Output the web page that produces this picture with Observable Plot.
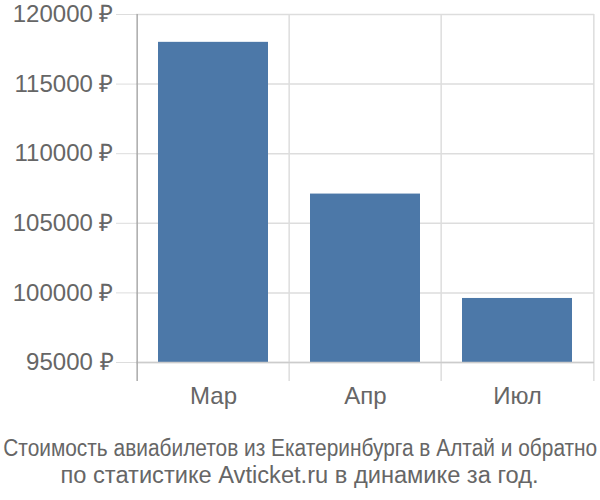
<!DOCTYPE html>
<html>
<head>
<meta charset="utf-8">
<script src="https://cdn.jsdelivr.net/npm/d3@7"></script>
<script src="https://cdn.jsdelivr.net/npm/@observablehq/plot@0.6"></script>
<style>
  body { margin: 0; background: #fff; overflow: hidden; }
  #chart svg { display: block; }
  #caption {
    width: 600px;
    display: flex;
    flex-direction: column;
    align-items: center;
    font-family: "Liberation Sans", Arial, sans-serif;
    font-size: 23px;
    line-height: 27px;
    color: #666;
    margin-top: 15px;
    white-space: nowrap;
  }
  #caption span { display: block; flex: none; transform-origin: center; }
</style>
</head>
<body>
<div id="chart"></div>
<div id="caption"><span id="l1">Стоимость авиабилетов из Екатеринбурга в Алтай и обратно</span><span id="l2">по статистике Avticket.ru в динамике за год.</span></div>
<script>
const months = ["Мар", "Апр", "Июл"];
const prices = [118000, 107100, 99600];
const yTicks = [95000, 100000, 105000, 110000, 115000, 120000];

const data = months.map((m, i) => ({month: m, price: prices[i]}));
const bw = (600 - 136 - 6) / months.length;

const chart = Plot.plot({
  width: 600,
  height: 420,
  marginLeft: 136,
  marginRight: 6,
  marginTop: 14,
  marginBottom: 39,
  style: {fontFamily: "'Liberation Sans', Arial, sans-serif", fontSize: "24px", color: "#666", background: "#fff"},
  x: {domain: months, padding: 0, label: null},
  y: {domain: [95000, 120000], range: [362, 14], label: null},
  marks: [
    Plot.ruleY(yTicks, {stroke: "#ddd", strokeWidth: 1.5}),
    Plot.axisY({ticks: yTicks, tickSize: 20, tickPadding: 3, stroke: "#ddd", fill: "#666", tickFormat: d => d + " ₽", fontSize: 24}),
    Plot.ruleX(months.slice(1), {stroke: "#ddd", strokeWidth: 1.5, dx: -bw / 2}),
    Plot.ruleX(months.slice(-1), {stroke: "#ddd", strokeWidth: 1.5, dx: bw / 2}),
    Plot.barY(data, {x: "month", y1: 95000, y2: "price", fill: "#4c78a8", insetLeft: 21, insetRight: 21}),
    Plot.ruleY([95000], {stroke: "#ccc", strokeWidth: 1.5}),
    Plot.ruleX(months.slice(0, 1), {stroke: "#aaa", strokeWidth: 1.5, dx: -bw / 2}),
    Plot.axisX({tickSize: 0, tickPadding: 5, fill: "#666", fontSize: 24, label: null})
  ]
});
document.getElementById("chart").appendChild(chart);

// condense caption lines horizontally to match the narrow typeface
const targets = {l1: 594, l2: 478};
for (const id in targets) {
  const el = document.getElementById(id);
  const w = el.getBoundingClientRect().width;
  el.style.transform = `scaleX(${targets[id] / w})`;
}
</script>
</body>
</html>
